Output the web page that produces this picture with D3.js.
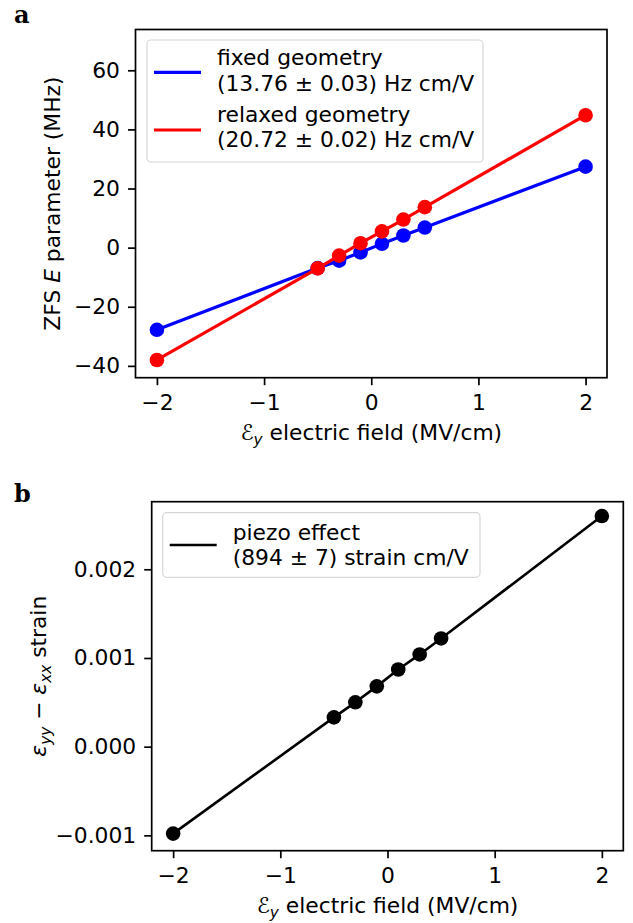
<!DOCTYPE html>
<html>
<head>
<meta charset="utf-8">
<script src="https://cdn.jsdelivr.net/npm/d3@7"></script>
<style>
body { margin: 0; background: #fff; }
text { font-family: "DejaVu Sans", sans-serif; fill: #000; }
</style>
</head>
<body>
<svg id="canvas"></svg>
<script>
// data
let fieldValues = [-2, -0.5, -0.3, -0.1, 0.1, 0.3, 0.5, 2]
let fixedE = [-27.8, -6.9, -4.4, -1.6, 1.3, 4.1, 6.8, 27.4]
let relaxedE = [-38.0, -7.0, -2.7, 1.5, 5.5, 9.5, 13.7, 44.8]
let piezoStrain = [-0.00098, 0.00033, 0.00050, 0.00068, 0.00087, 0.00104, 0.00122, 0.00260]
let fieldTicks = [-2, -1, 0, 1, 2]
let eTicks = [-40, -20, 0, 20, 40, 60]
let strainTicks = [-0.001, 0, 0.001, 0.002]

let width = 633
let height = 923
let fs = 21.8

let canvas = d3.select('#canvas')
    .attr('width', width)
    .attr('height', height)

let drawPanel = (p) => {
    let xScale = d3.scaleLinear().domain([-2.2, 2.2]).range([p.left, p.right])
    let yScale = d3.scaleLinear().domain(p.yDomain).range([p.bottom, p.top])
    let g = canvas.append('g')

    // series
    p.series.forEach((s) => {
        let pts = fieldValues.map((x, i) => [x, s.values[i]])
        let line = d3.line().x((d) => xScale(d[0])).y((d) => yScale(d[1]))
        g.append('path')
            .attr('d', line(pts))
            .attr('fill', 'none')
            .attr('stroke', s.color)
            .attr('stroke-width', p.lw)
            .attr('stroke-linejoin', 'round')
        g.selectAll(null)
            .data(pts)
            .enter()
            .append('circle')
            .attr('cx', (d) => xScale(d[0]))
            .attr('cy', (d) => yScale(d[1]))
            .attr('r', 7.3)
            .attr('fill', s.color)
    })

    // axes
    let xAxis = d3.axisBottom(xScale).tickValues(fieldTicks).tickFormat(d3.format('d'))
        .tickSizeInner(7.5).tickSizeOuter(0).tickPadding(7)
    let yAxis = d3.axisLeft(yScale).tickValues(p.yTicks).tickFormat(p.yFormat)
        .tickSizeInner(7.5).tickSizeOuter(0).tickPadding(8)
    let xg = g.append('g').attr('transform', 'translate(0,' + p.bottom + ')').call(xAxis)
    let yg = g.append('g').attr('transform', 'translate(' + p.left + ',0)').call(yAxis)
    ;[xg, yg].forEach((ax) => {
        ax.select('.domain').remove()
        ax.selectAll('line').attr('stroke', '#000').attr('stroke-width', 1.7)
        ax.selectAll('text').style('font-size', fs + 'px').attr('fill', '#000')
    })
    xg.selectAll('text').attr('dy', null).attr('y', 32.3)
    g.append('rect')
        .attr('x', p.left).attr('y', p.top)
        .attr('width', p.right - p.left).attr('height', p.bottom - p.top)
        .attr('fill', 'none').attr('stroke', '#000').attr('stroke-width', 1.7)

    // x label
    let xl = g.append('text')
        .attr('x', (p.left + p.right) / 2)
        .attr('y', p.bottom + 62)
        .attr('text-anchor', 'middle')
        .style('font-size', fs + 'px')
    xl.append('tspan').text('ℰ').style('font-style', 'italic')
    xl.append('tspan').text('y').attr('dy', 5).style('font-size', (fs * 0.7) + 'px').style('font-style', 'italic')
    xl.append('tspan').text(' electric field (MV/cm)').attr('dy', -5)

    // y label
    let yl = g.append('text')
        .attr('transform', 'translate(' + p.yLabelX + ',' + ((p.top + p.bottom) / 2) + ') rotate(-90)')
        .attr('text-anchor', 'middle')
        .style('font-size', fs + 'px')
    p.yLabel(yl)

    // legend
    let lg = g.append('g')
    lg.append('rect')
        .attr('x', p.legend.x).attr('y', p.legend.y)
        .attr('width', p.legend.w).attr('height', p.legend.h)
        .attr('rx', 4).attr('fill', '#fff').attr('fill-opacity', 0.8)
        .attr('stroke', '#d6d6d6').attr('stroke-width', 1.2)
    p.series.forEach((s, i) => {
        let e = p.legend.entries[i]
        lg.append('line')
            .attr('x1', p.legend.x + 7).attr('x2', p.legend.x + 54)
            .attr('y1', e.lineY).attr('y2', e.lineY)
            .attr('stroke', s.color).attr('stroke-width', p.lw)
        s.label.forEach((t, j) => {
            lg.append('text')
                .attr('x', p.legend.x + 70)
                .attr('y', e.baseY + j * 25.7)
                .style('font-size', fs + 'px')
                .text(t)
        })
    })

    // panel letter
    g.append('text')
        .attr('x', 14).attr('y', p.letterY)
        .style('font-family', '"DejaVu Serif", serif')
        .style('font-weight', 'bold')
        .style('font-size', '24px')
        .text(p.letter)
}

drawPanel({
    letter: 'a', letterY: 23,
    left: 135.5, right: 607, top: 29.5, bottom: 377.7,
    yDomain: [-44.0, 73.8], yTicks: eTicks, yFormat: d3.format('d'),
    lw: 3.2, yLabelX: 60,
    yLabel: (t) => {
        t.append('tspan').text('ZFS ')
        t.append('tspan').text('E').style('font-style', 'italic')
        t.append('tspan').text(' parameter (MHz)')
    },
    series: [
        { values: fixedE, color: '#0000ff', label: ['fixed geometry', '(13.76 ± 0.03) Hz cm/V'] },
        { values: relaxedE, color: '#ff0000', label: ['relaxed geometry', '(20.72 ± 0.02) Hz cm/V'] }
    ],
    legend: { x: 147, y: 40, w: 336, h: 122, entries: [{ lineY: 72.3, baseY: 65 }, { lineY: 130, baseY: 121.7 }] }
})

drawPanel({
    letter: 'b', letterY: 502,
    left: 151.7, right: 623.3, top: 501.7, bottom: 850.7,
    yDomain: [-0.001173, 0.002762], yTicks: strainTicks, yFormat: d3.format('.3f'),
    lw: 2.6, yLabelX: 46,
    yLabel: (t) => {
        let sub = (fs * 0.7) + 'px'
        t.append('tspan').text('ε').style('font-style', 'italic')
        t.append('tspan').text('yy').attr('dy', 5).style('font-size', sub).style('font-style', 'italic')
        t.append('tspan').text(' − ').attr('dy', -5)
        t.append('tspan').text('ε').style('font-style', 'italic')
        t.append('tspan').text('xx').attr('dy', 5).style('font-size', sub).style('font-style', 'italic')
        t.append('tspan').text(' strain').attr('dy', -5)
    },
    series: [
        { values: piezoStrain, color: '#000000', label: ['piezo effect', '(894 ± 7) strain cm/V'] }
    ],
    legend: { x: 162.7, y: 512.7, w: 317.3, h: 64.6, entries: [{ lineY: 545, baseY: 539.5 }] }
})
</script>
</body>
</html>
